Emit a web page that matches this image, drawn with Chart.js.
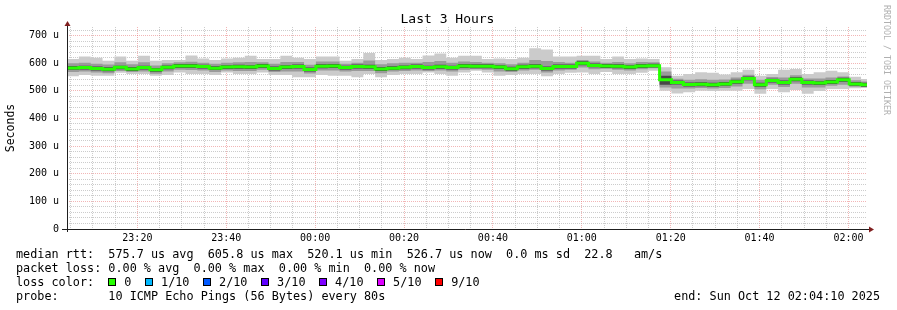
<!DOCTYPE html>
<html><head><meta charset="utf-8">
<script src="https://cdn.jsdelivr.net/npm/chart.js@4/dist/chart.umd.min.js"></script>
<style>
html,body{margin:0;padding:0;background:#fff;}
#wrap{position:relative;width:897px;height:310px;overflow:hidden;font-family:"DejaVu Sans Mono",monospace;color:#000;}
#c{position:absolute;left:0;top:0;}
#title{position:absolute;top:11px;left:0;width:895px;text-align:center;font-size:13px;line-height:16px;white-space:pre;}
#wm{position:absolute;left:882px;top:5px;writing-mode:vertical-rl;font-size:8.3px;line-height:9px;color:#b0b0b0;white-space:pre;}
.row{position:absolute;left:16px;font-size:11.8px;line-height:14px;white-space:pre;}
.sq{display:inline-block;width:6px;height:6px;border:1px solid #000;margin-right:8px;vertical-align:baseline;}
.lab{display:inline-block;margin-right:13.6px;}
#end{position:absolute;right:17px;font-size:11.8px;line-height:14px;white-space:pre;}
</style></head>
<body>
<div id="wrap">
<canvas id="c" width="897" height="310"></canvas>
<div id="title">Last 3 Hours</div>
<div id="wm">RRDTOOL / TOBI OETIKER</div>
<div class="row" id="r1" style="top:247px"></div>
<div class="row" id="r2" style="top:261px"></div>
<div class="row" id="r3" style="top:275px"></div>
<div class="row" id="r4" style="top:289px"></div>
<div id="end" style="top:289px"></div>
</div>
<script>
// ---- data ----
const startTime = "23:04:10";
const spanMinutes = 180;
const stepSeconds = 160;
const xTickLabels = ["23:20","23:40","00:00","00:20","00:40","01:00","01:20","01:40","02:00"];
const yMajorValues = [0,100,200,300,400,500,600,700];
const yTickLabels = ["0","100 u","200 u","300 u","400 u","500 u","600 u","700 u"];
const median = [583,584,581,578,585,579,584,576,585,590,590,588,582,586,587,586,590,
 581,586,588,577,589,590,584,588,587,579,582,585,588,584,587,584,590,
 589,589,586,580,587,589,581,588,588,600,592,590,589,586,590,591,540,
 530,523,524,522,525,533,545,522,537,530,542,530,528,532,540,525,522];
const smokeMax = [615,624,620,609,624,609,627,609,612,612,628,617,612,617,620,627,615,
 615,627,620,615,624,624,609,615,637,612,615,620,615,628,635,620,627,
 627,615,617,615,620,654,650,624,624,627,627,615,624,615,617,615,585,
 555,561,567,565,559,567,576,555,561,576,579,561,567,573,567,551,543];
const smokeMin = [553,557,555,555,565,561,561,555,557,566,561,561,557,566,561,561,566,
 557,557,549,549,557,555,555,549,561,549,557,561,561,566,561,555,566,
 573,566,555,557,561,561,553,561,565,566,561,568,561,561,565,573,500,
 490,495,500,499,500,500,507,489,507,495,503,489,499,507,507,509,510];
const midHigh = [600,602,598,595,603,596,603,592,600,603,605,602,598,602,603,604,603,
 598,604,604,594,606,606,598,602,610,596,600,602,602,604,608,602,606,
 604,602,600,596,602,612,608,604,602,612,606,602,604,600,604,603,570,
 544,540,542,540,541,548,558,540,550,548,556,545,545,548,552,538,534];
const midLow = [568,570,566,564,572,568,570,562,570,576,575,574,568,574,572,572,576,
 568,570,570,563,574,574,570,572,572,564,570,572,574,572,574,570,576,
 578,576,570,568,574,576,566,574,576,584,578,580,576,574,578,582,512,
 508,508,510,508,510,516,526,506,522,514,526,512,512,518,522,515,514];
const innerHigh = [590,591,588,585,591,586,591,583,592,597,597,594,589,593,594,593,597,
 588,593,595,584,596,597,591,595,594,586,589,592,595,591,594,591,597,
 596,596,593,587,594,596,588,595,595,607,599,597,596,593,597,598,555,
 537,530,531,529,532,540,552,529,544,537,549,537,535,539,547,532,529];
const innerLow = [576,577,574,571,578,572,577,569,578,583,583,581,575,579,580,579,583,
 574,579,581,570,582,583,577,581,580,572,575,578,581,577,580,577,583,
 582,582,579,573,580,582,574,581,581,593,585,583,582,579,583,584,522,
 523,516,517,515,518,526,538,515,530,523,535,523,521,525,533,518,515];
const lossLabels = ["0","1/10","2/10","3/10","4/10","5/10","9/10"];
const lossColors = ["#26ff00","#00b8ff","#0059ff","#5e00ff","#7e00ff","#dd00ff","#ff0000"];
const statsLine = "median rtt:  575.7 us avg  605.8 us max  520.1 us min  526.7 us now  0.0 ms sd  22.8   am/s";
const lossLine = "packet loss: 0.00 % avg  0.00 % max  0.00 % min  0.00 % now";
const probeLine = "probe:       10 ICMP Echo Pings (56 Bytes) every 80s";
const endLine = "end: Sun Oct 12 02:04:10 2025";

// ---- legend text ----
document.getElementById('r1').textContent = statsLine;
document.getElementById('r2').textContent = lossLine;
document.getElementById('r4').textContent = probeLine;
document.getElementById('end').textContent = endLine;
const r3 = document.getElementById('r3');
r3.appendChild(document.createTextNode("loss color:  "));
lossLabels.forEach((l,i)=>{
  const s=document.createElement('span'); s.className='sq'; s.style.background=lossColors[i]; r3.appendChild(s);
  const t=document.createElement('span'); t.className='lab'; t.textContent=l; r3.appendChild(t);
});

// ---- scales helpers ----
const [sh,sm,ss] = startTime.split(':').map(Number);
const startMin = sh*60+sm+ss/60;
function minutesFromStart(lbl){const [h,m]=lbl.split(':').map(Number);let d=h*60+m-startMin;if(d<0)d+=1440;return d;}
const xMajor = xTickLabels.map(minutesFromStart);
let first = xMajor[0]; while(first-5>=0) first-=5;
const xTicks=[]; for(let v=first; v<=spanMinutes+1e-9; v+=5) xTicks.push(v);
const near=(a,b)=>Math.abs(a-b)<1e-6;
const xLabel = v => { const k=xMajor.findIndex(m=>near(m,v)); return k>=0?xTickLabels[k]:''; };
const yTicks=[]; for(let v=0; v<=720; v+=20) yTicks.push(v);
const yLabel = v => { const k=yMajorValues.indexOf(v); return k>=0?yTickLabels[k]:''; };

const GRID='rgba(170,170,170,0.6)', MGRID='rgba(230,110,110,0.5)';
const toPts = arr => { const p=arr.map((v,i)=>({x:i*stepSeconds/60,y:v})); p.push({x:arr.length*stepSeconds/60,y:arr[arr.length-1]}); return p; };
const band = (arr, fill, color) => ({data:toPts(arr), stepped:true, pointRadius:0, borderWidth:1, borderColor:'rgba(0,0,0,0)', fill:fill, backgroundColor:color||'rgba(0,0,0,0)'});

const axisDeco = {id:'axisDeco', afterDraw(chart){
  const {ctx, chartArea:a} = chart;
  ctx.save();
  ctx.strokeStyle='#1f1f1f'; ctx.lineWidth=1;
  ctx.beginPath(); ctx.moveTo(a.left-5, Math.round(a.bottom)+0.5); ctx.lineTo(a.right+2, Math.round(a.bottom)+0.5); ctx.stroke();
  ctx.beginPath(); ctx.moveTo(Math.round(a.left)+0.5, a.bottom+3); ctx.lineTo(Math.round(a.left)+0.5, a.top-1); ctx.stroke();
  ctx.fillStyle='#801f1f';
  const lx=Math.round(a.left)+0.5, by=Math.round(a.bottom)+0.5;
  ctx.beginPath(); ctx.moveTo(lx, a.top-6); ctx.lineTo(lx-3, a.top-1); ctx.lineTo(lx+3, a.top-1); ctx.closePath(); ctx.fill();
  ctx.beginPath(); ctx.moveTo(a.right+7, by); ctx.lineTo(a.right+2, by-3); ctx.lineTo(a.right+2, by+3); ctx.closePath(); ctx.fill();
  ctx.restore();
}};

const FONT='DejaVu Sans Mono';
new Chart(document.getElementById('c'), {
  type:'line',
  data:{datasets:[
    {data:toPts(median), stepped:true, pointRadius:0, borderWidth:3, borderColor:'#26ff00', fill:false, borderCapStyle:'butt', borderJoinStyle:'miter'},
    band(innerLow,false), band(innerHigh,1,'#474747'),
    band(midLow,false), band(midHigh,3,'#9a9a9a'),
    band(smokeMin,false), band(smokeMax,5,'#cbcbcb')
  ]},
  options:{
    responsive:false, animation:false, devicePixelRatio:1,
    layout:{padding:{top:27,right:30,left:0,bottom:0}},
    plugins:{legend:{display:false}, tooltip:{enabled:false}, title:{display:false}},
    scales:{
      x:{type:'linear', min:0, max:spanMinutes,
        afterBuildTicks:s=>{s.ticks=xTicks.map(v=>({value:v}));},
        afterFit:s=>{s.height=81;},
        ticks:{autoSkip:false, maxRotation:0, minRotation:0, padding:3, color:'#000', font:{family:FONT,size:10}, callback:v=>xLabel(v)},
        grid:{drawTicks:false, lineWidth:1, color:c=>(c.tick && xLabel(c.tick.value)!=='')?MGRID:GRID},
        border:{display:false, dash:[1,1]}
      },
      y:{type:'linear', min:0, max:731,
        afterBuildTicks:s=>{s.ticks=yTicks.map(v=>({value:v}));},
        afterFit:s=>{s.width=67;},
        ticks:{autoSkip:false, padding:8, color:'#000', font:{family:FONT,size:10}, callback:v=>yLabel(v)},
        grid:{drawTicks:false, lineWidth:1, color:c=>(c.tick && c.tick.value%100===0)?MGRID:GRID},
        border:{display:false, dash:[1,1]},
        title:{display:true, text:'Seconds', color:'#000', font:{family:FONT,size:11.5}, padding:{top:4,bottom:0}}
      }
    }
  },
  plugins:[axisDeco]
});
</script>
</body></html>
